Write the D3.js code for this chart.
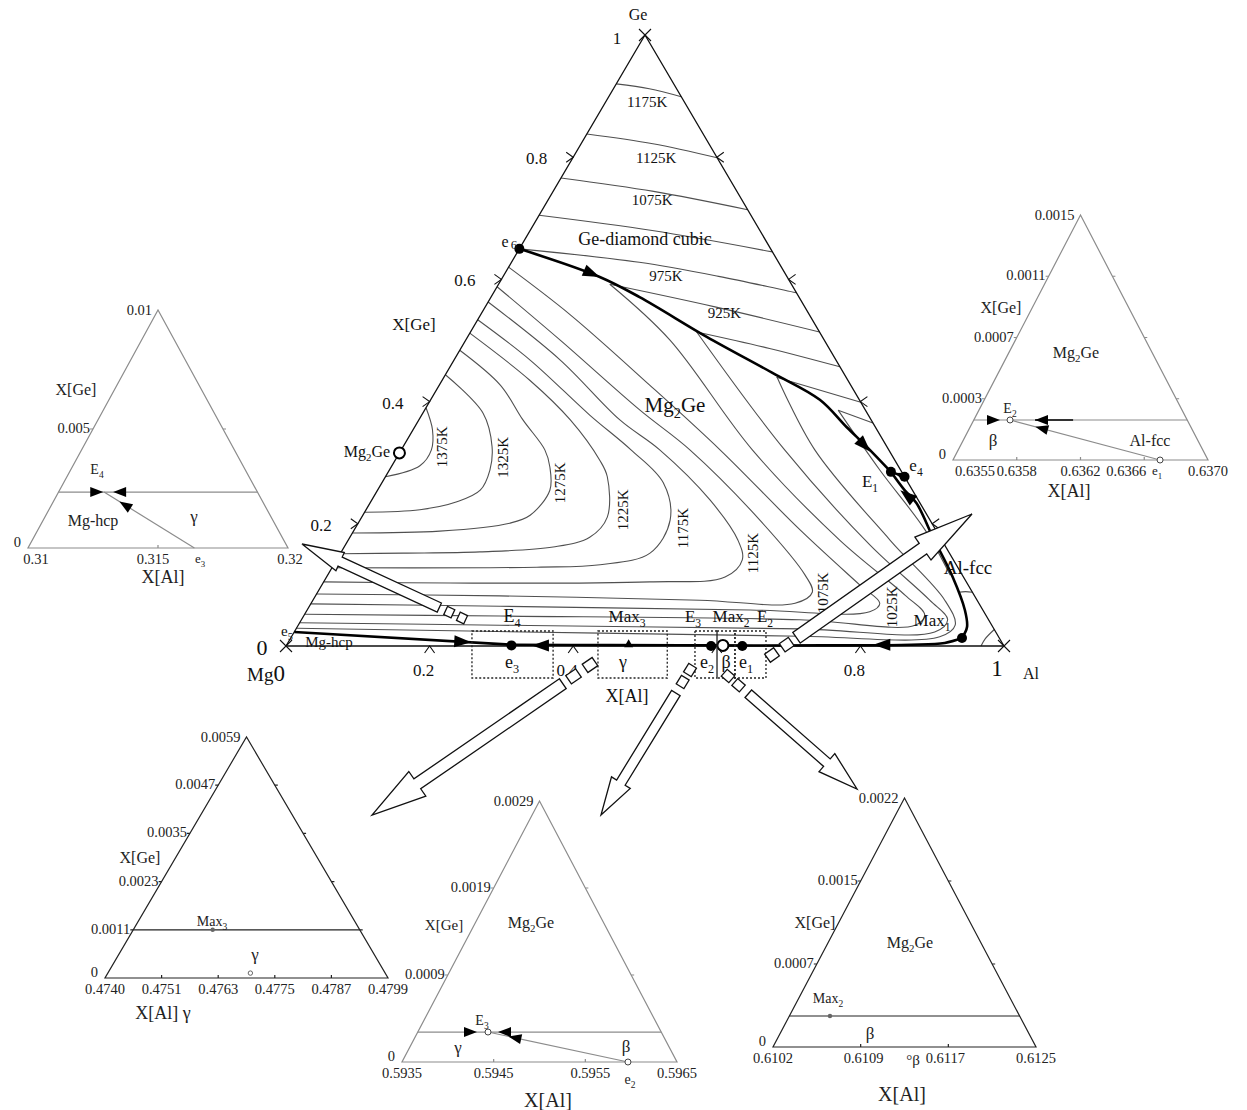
<!DOCTYPE html>
<html>
<head>
<meta charset="utf-8">
<script src="https://cdn.jsdelivr.net/npm/d3@7/dist/d3.min.js"></script>
<style>
  body { margin: 0; background: #fff; }
  text { font-family: "Liberation Serif", "Times New Roman", serif; }
</style>
</head>
<body>
<svg id="chart" width="1247" height="1110"></svg>
<script>
// every composition below is [X(Al), X(Ge)]

// ---- main diagram: axis ----
var axisTicks = [0.2, 0.4, 0.6, 0.8];
var axisTickLabels = ["0.2", "0.4", "0.6", "0.8"];

// ---- isotherms in the Ge-diamond field ----
var geFieldLines = [
  [[0, 0.920], [0.05, 0.912], [0.101, 0.899]],
  [[0, 0.838], [0.10, 0.822], [0.201, 0.799]],
  [[0, 0.766], [0.14, 0.744], [0.286, 0.714]],
  [[0, 0.705], [0.17, 0.680], [0.355, 0.645]],
  [[0, 0.650], [0.178, 0.628], [0.30, 0.605], [0.422, 0.578]],
  [[0.155, 0.592], [0.32, 0.555], [0.486, 0.514]],
  [[0.315, 0.514], [0.43, 0.487], [0.543, 0.457]],
  [[0.463, 0.440], [0.601, 0.399]],
  [[0.576, 0.386], [0.635, 0.365]]
];
var geFieldTemps = ["1175K", "1125K", "1075K", "975K", "925K"];
var geFieldLabelAt = [[0.058, 0.890], [0.116, 0.799], [0.145, 0.730], [0.226, 0.606], [0.338, 0.545]];

// ---- isotherms in the Mg2Ge field ----
var mg2geLines = [
  [[0, 0.390], [0.027, 0.354], [0.042, 0.321], [0.039, 0.295], [0, 0.277]],
  [[0, 0.444], [0.084, 0.381], [0.124, 0.326], [0.140, 0.288], [0.143, 0.255], [0.120, 0.236], [0.075, 0.223], [0, 0.219]],
  [[0, 0.484], [0.085, 0.427], [0.145, 0.370], [0.200, 0.321], [0.221, 0.293], [0.240, 0.255], [0.233, 0.214], [0.211, 0.201], [0.120, 0.188], [0, 0.185]],
  [[0, 0.512], [0.122, 0.435], [0.211, 0.370], [0.285, 0.304], [0.309, 0.277], [0.342, 0.211], [0.334, 0.178], [0.291, 0.162], [0.193, 0.154], [0.087, 0.152], [0, 0.151]],
  [[0, 0.534], [0.106, 0.468], [0.234, 0.378], [0.320, 0.321], [0.392, 0.267], [0.432, 0.206], [0.431, 0.152], [0.371, 0.133], [0.285, 0.129], [0, 0.128]],
  [[0, 0.563], [0.148, 0.468], [0.280, 0.370], [0.360, 0.321], [0.471, 0.239], [0.543, 0.173], [0.565, 0.141], [0.555, 0.113], [0.454, 0.105], [0.177, 0.103], [0, 0.105]],
  [[0, 0.588], [0.131, 0.501], [0.300, 0.386], [0.402, 0.321], [0.557, 0.206], [0.665, 0.116], [0.689, 0.088], [0.674, 0.070], [0.539, 0.075], [0.257, 0.082], [0, 0.085]],
  [[0, 0.620], [0.125, 0.542], [0.293, 0.427], [0.444, 0.321], [0.621, 0.190], [0.749, 0.100], [0.792, 0.070], [0.785, 0.056], [0.617, 0.059], [0.266, 0.065], [0, 0.069]],
  [[0.155, 0.592], [0.284, 0.501], [0.489, 0.321], [0.685, 0.173], [0.821, 0.083], [0.864, 0.051], [0.859, 0.034], [0.694, 0.043], [0.274, 0.049], [0, 0.052]],
  [[0.315, 0.514], [0.534, 0.321], [0.731, 0.165], [0.859, 0.075], [0.900, 0.043], [0.892, 0.023], [0.702, 0.028], [0.281, 0.034], [0, 0.038]],
  [[0.464, 0.440], [0.576, 0.321], [0.755, 0.173], [0.880, 0.075], [0.915, 0.034], [0.903, 0.015], [0.708, 0.016], [0.427, 0.021], [0, 0.029]],
  [[0.576, 0.386], [0.683, 0.288], [0.795, 0.190], [0.867, 0.116]]
];
var mg2geTemps = ["1375K", "1325K", "1275K", "1225K", "1175K", "1125K", "1075K", "1025K"];
var mg2geLabelAt = [[0.054, 0.326], [0.148, 0.309], [0.248, 0.267], [0.358, 0.223], [0.456, 0.193], [0.574, 0.152], [0.704, 0.087], [0.812, 0.064]];

// ---- isotherms in the Al-fcc field ----
var alFccLines = [
  [[0.819, 0.170], [0.830, 0.170]],
  [[0.892, 0.088], [0.902, 0.089], [0.912, 0.088]],
  [[0.968, 0], [0.968, 0.012], [0.973, 0.027]]
];

// ---- monovariant lines ----
var lineE6E1 = [[0, 0.650], [0.135, 0.604], [0.207, 0.571], [0.333, 0.506], [0.454, 0.447], [0.542, 0.403], [0.602, 0.358], [0.646, 0.326], [0.700, 0.285]];
var lineMax1E1 = [[0.935, 0.013], [0.933, 0.031], [0.916, 0.059], [0.872, 0.113], [0.812, 0.178], [0.761, 0.234], [0.734, 0.255], [0.700, 0.285]];
var lineE1e4 = [[0.700, 0.285], [0.723, 0.277]];
var lineMax1E4 = [[0.935, 0.013], [0.915, 0.005], [0.87, 0.002], [0.75, 0.001], [0.60, 0.001], [0.45, 0.0015], [0.3135, 0.002]];
var lineE5E4 = [[0, 0.023], [0.3135, 0.002]];

// ---- invariant points ----
var filledPoints = [[0, 0.650], [0.700, 0.285], [0.723, 0.277], [0.935, 0.013], [0.3135, 0.001], [0.592, 0], [0.6355, 0]];
var openPoints = [[0, 0.316], [0.608, 0.001]];
var max3Point = [0.4757, 0.003];

// direction arrows on the monovariant lines: tip, then a point behind it
var flowArrows = [
  [[0.135, 0.604], [0.07, 0.630]],
  [[0.655, 0.318], [0.602, 0.358]],
  [[0.728, 0.255], [0.761, 0.234]],
  [[0.817, 0.002], [0.90, 0.002]],
  [[0.342, 0.001], [0.45, 0.001]],
  [[0.255, 0.006], [0, 0.023]]
];
var smallFlowArrows = [[[0.707, 0.283], [0.723, 0.277]]];

// enlarged regions marked on the X(Al) axis
var zoomBoxes = [[0.259, 0.372], [0.4345, 0.531], [0.5696, 0.6003], [0.6003, 0.6253], [0.6253, 0.6685]];

// ---- inset near E4 ----
var insE4Al = ["0.31", "0.315", "0.32"];
var insE4Ge = ["0", "0.005", "0.01"];
var insE4Level = 0.00235;
var insE4Point = [0.31175, 0.00235];
var insE4From = [0.3164, 0];
var insE4Arrows = [[[0.31172, 0.00235], [0.3100, 0.00235]], [[0.3121, 0.00235], [0.3180, 0.00235]], [[0.31254, 0.00195], [0.3164, 0]]];

// ---- inset near E2 ----
var insE2Al = ["0.6355", "0.6358", "0.6362", "0.6366", "0.6370"];
var insE2Ge = ["0", "0.0003", "0.0007", "0.0011", "0.0015"];
var insE2Level = 0.000245;
var insE2Point = [0.635713, 0.000245];
var insE2From = [0.636718, 0];
var insE2Arrows = [[[0.635654, 0.000245], [0.6355, 0.000245]], [[0.63586, 0.000245], [0.6368, 0.000245]], [[0.635882, 0.000204], [0.636718, 0]]];

// ---- inset near Max3 ----
var insMax3Al = ["0.4740", "0.4751", "0.4763", "0.4775", "0.4787", "0.4799"];
var insMax3Ge = ["0", "0.0011", "0.0023", "0.0035", "0.0047", "0.0059"];
var insMax3Level = 0.00118;
var insMax3Point = [0.475655, 0.00118];
var insMax3Gamma = [0.476971, 0.00012];

// ---- inset near E3 ----
var insE3Al = ["0.5935", "0.5945", "0.5955", "0.5965"];
var insE3Ge = ["0", "0.0009", "0.0019", "0.0029"];
var insE3Level = 0.000333;
var insE3Point = [0.594266, 0.000333];
var insE3From = [0.595965, 0];
var insE3Arrows = [[[0.594146, 0.000333], [0.5935, 0.000333]], [[0.594375, 0.000333], [0.5955, 0.000333]], [[0.594514, 0.000284], [0.595965, 0]]];

// ---- inset near Max2 ----
var insMax2Al = ["0.6102", "0.6109", "0.6117", "0.6125"];
var insMax2Ge = ["0", "0.0007", "0.0015", "0.0022"];
var insMax2Level = 0.000274;
var insMax2Point = [0.610555, 0.000274];

// =====================================================================
var svg = d3.select("#chart");
svg.append("rect").attr("width", 1247).attr("height", 1110).attr("fill", "#fff");

function label(parent, s, x, y, o) {
  o = o || {};
  var size = o.size || 16;
  var t = parent.append("text").attr("x", x).attr("y", y)
    .attr("font-size", size)
    .attr("text-anchor", o.anchor || "middle")
    .attr("fill", o.fill || "#111");
  if (o.central) t.attr("dominant-baseline", "central");
  if (o.rotate) t.attr("transform", "rotate(" + o.rotate + "," + x + "," + y + ")");
  var parts = s.split(/(_\w)/);
  var down = false;
  parts.forEach(function (p) {
    if (!p) return;
    if (p[0] === "_") {
      t.append("tspan").attr("font-size", size * 0.68).attr("dy", size * 0.28).text(p.slice(1));
      down = true;
    } else {
      var ts = t.append("tspan").text(p);
      if (down) { ts.attr("dy", -size * 0.28); down = false; }
    }
  });
  return t;
}

function arrowHead(parent, a, b, len, wid, fill) {
  var dx = a[0] - b[0], dy = a[1] - b[1], L = Math.hypot(dx, dy);
  var ux = dx / L, uy = dy / L, nx = -uy, ny = ux;
  var bx = a[0] - ux * len, by = a[1] - uy * len;
  parent.append("path")
    .attr("d", "M" + a[0] + "," + a[1] + "L" + (bx + nx * wid / 2) + "," + (by + ny * wid / 2) +
      "L" + (bx - nx * wid / 2) + "," + (by - ny * wid / 2) + "Z")
    .attr("fill", fill || "#000");
}

// ---------------- main ternary ----------------
var xAl = d3.scaleLinear().domain([0, 1]).range([286, 1004]);
var yGe = d3.scaleLinear().domain([0, 1]).range([646, 35]);
function P(d) { return [xAl(d[0] + d[1] / 2), yGe(d[1])]; }
var smooth = d3.line().x(function (d) { return P(d)[0]; }).y(function (d) { return P(d)[1]; })
  .curve(d3.curveCatmullRom.alpha(0.5));

var main = svg.append("g");

main.selectAll(".iso-ge").data(geFieldLines).join("path").attr("class", "iso-ge")
  .attr("d", smooth).attr("fill", "none").attr("stroke", "#505050").attr("stroke-width", 1.1);
main.selectAll(".iso-mg").data(mg2geLines).join("path").attr("class", "iso-mg")
  .attr("d", smooth).attr("fill", "none").attr("stroke", "#505050").attr("stroke-width", 1.1);
main.selectAll(".iso-al").data(alFccLines).join("path").attr("class", "iso-al")
  .attr("d", smooth).attr("fill", "none").attr("stroke", "#505050").attr("stroke-width", 1.1);

// triangle
main.append("path")
  .attr("d", d3.line()([P([0, 0]), P([1, 0]), P([0, 1])]) + "Z")
  .attr("fill", "none").attr("stroke", "#111").attr("stroke-width", 1.3);

// ticks
var tickPath = "";
axisTicks.forEach(function (g) {
  var l = P([0, g]); tickPath += "M" + (l[0] - 7) + "," + (l[1] - 5) + "L" + l[0] + "," + l[1] + "L" + (l[0] - 7) + "," + (l[1] + 5);
  var r = P([1 - g, g]); tickPath += "M" + (r[0] + 7) + "," + (r[1] - 5) + "L" + r[0] + "," + r[1] + "L" + (r[0] + 7) + "," + (r[1] + 5);
  var b = P([g, 0]); tickPath += "M" + (b[0] - 5) + "," + (b[1] + 7) + "L" + b[0] + "," + b[1] + "L" + (b[0] + 5) + "," + (b[1] + 7);
});
[[0, 0], [1, 0], [0, 1]].forEach(function (c) {
  var p = P(c);
  tickPath += "M" + (p[0] - 6) + "," + (p[1] - 6) + "L" + (p[0] + 6) + "," + (p[1] + 6) +
    "M" + (p[0] - 6) + "," + (p[1] + 6) + "L" + (p[0] + 6) + "," + (p[1] - 6);
});
main.append("path").attr("d", tickPath).attr("fill", "none").attr("stroke", "#111").attr("stroke-width", 1.1);

// monovariant lines
[lineE6E1, lineMax1E1, lineE1e4, lineMax1E4, lineE5E4].forEach(function (ln) {
  main.append("path").attr("d", smooth(ln)).attr("fill", "none").attr("stroke", "#000").attr("stroke-width", 2.6);
});

flowArrows.forEach(function (f) { arrowHead(main, P(f[0]), P(f[1]), 17, 12); });
smallFlowArrows.forEach(function (f) { arrowHead(main, P(f[0]), P(f[1]), 9, 8); });
arrowHead(main, [P(max3Point)[0], P(max3Point)[1] - 5], [P(max3Point)[0], P(max3Point)[1] + 3], 8, 9);

main.selectAll(".pt").data(filledPoints).join("circle").attr("class", "pt")
  .attr("cx", function (d) { return P(d)[0]; }).attr("cy", function (d) { return P(d)[1]; })
  .attr("r", 5).attr("fill", "#000");
main.selectAll(".opt").data(openPoints).join("circle").attr("class", "opt")
  .attr("cx", function (d) { return P(d)[0]; }).attr("cy", function (d) { return P(d)[1]; })
  .attr("r", 5.5).attr("fill", "#fff").attr("stroke", "#000").attr("stroke-width", 2);

// dotted zoom boxes
main.selectAll(".zbox").data(zoomBoxes).join("rect").attr("class", "zbox")
  .attr("x", function (d) { return xAl(d[0]); })
  .attr("y", yGe(0) - 15)
  .attr("width", function (d) { return xAl(d[1]) - xAl(d[0]); })
  .attr("height", 47)
  .attr("fill", "none").attr("stroke", "#222").attr("stroke-width", 1.3).attr("stroke-dasharray", "2,2");

// isotherm labels
geFieldTemps.forEach(function (t, i) {
  var p = P(geFieldLabelAt[i]);
  label(main, t, p[0], p[1], { size: 15, central: true });
});
mg2geTemps.forEach(function (t, i) {
  var p = P(mg2geLabelAt[i]);
  label(main, t, p[0], p[1], { size: 15, central: true, rotate: -90 });
});

// axis text
axisTicks.forEach(function (g, i) {
  var l = P([0, g]);
  label(main, axisTickLabels[i], l[0] - 26, l[1] + 7, { size: 17, anchor: "end" });
  if (g !== 0.6) {
    var b = P([g, 0]);
    label(main, axisTickLabels[i], b[0] - 6, b[1] + 30, { size: 17 });
  }
});
label(main, "Ge", 638, 20, { size: 16 });
label(main, "1", 617, 44, { size: 17 });
label(main, "0", 262, 655, { size: 22 });
var mg0 = main.append("text").attr("x", 247).attr("y", 681).attr("fill", "#111");
mg0.append("tspan").attr("font-size", 19).text("Mg");
mg0.append("tspan").attr("font-size", 23).text("0");
label(main, "1", 997, 676, { size: 23 });
label(main, "Al", 1031, 679, { size: 16 });
label(main, "X[Ge]", 414, 330, { size: 17 });
label(main, "X[Al]", 627, 702, { size: 18 });

var mainLabels = [
  ["Ge-diamond cubic", 645, 245, 18], ["Mg_2Ge", 675, 412, 21], ["Mg_2Ge", 367, 457, 16],
  ["Al-fcc", 968, 574, 19], ["Max_1", 932, 626, 17], ["E_1", 870, 487, 17], ["e_4", 916, 471, 17],
  ["e_5", 287, 636, 15], ["Mg-hcp", 329, 647, 15],
  ["E_4", 512, 622, 18], ["Max_3", 627, 622, 17], ["E_3", 693, 622, 17], ["Max_2", 731, 622, 17], ["E_2", 765, 622, 17],
  ["e_3", 512, 668, 18], ["γ", 623, 668, 18], ["e_2", 707, 668, 18], ["β", 726, 668, 18], ["e_1", 746, 668, 18]
];
mainLabels.forEach(function (m) { label(main, m[0], m[1], m[2], { size: m[3] }); });
label(main, "e", 505, 247, { size: 16 });
label(main, "6", 514, 249, { size: 13 });

// hollow pointer arrows towards the insets
var hollowArrows = [
  { tail: [462, 618], tip: [302, 544], squares: [0, 14], sq: [8, 9], start: 25, hw: 5, HW: 10, head: 42 },
  { tail: [772, 655], tip: [972, 514], squares: [0, 18], sq: [11, 10], start: 30, hw: 6.5, HW: 14, head: 60 },
  { tail: [590, 665], tip: [372, 815], squares: [0, 20], sq: [12, 10], start: 33, hw: 6, HW: 15, head: 55 },
  { tail: [690, 670], tip: [601, 815], squares: [0, 14], sq: [10, 9], start: 27, hw: 5, HW: 11, head: 38 },
  { tail: [728, 676], tip: [857, 789], squares: [0, 14], sq: [10, 9], start: 27, hw: 5, HW: 12, head: 40 }
];
var ha = svg.append("g").attr("fill", "#fff").attr("stroke", "#111").attr("stroke-width", 1.3);
hollowArrows.forEach(function (h) {
  var dx = h.tip[0] - h.tail[0], dy = h.tip[1] - h.tail[1], L = Math.hypot(dx, dy);
  var ux = dx / L, uy = dy / L, nx = -uy, ny = ux;
  var ang = Math.atan2(uy, ux) * 180 / Math.PI;
  h.squares.forEach(function (d) {
    var cx = h.tail[0] + ux * d, cy = h.tail[1] + uy * d;
    ha.append("rect").attr("x", cx - h.sq[0] / 2).attr("y", cy - h.sq[1] / 2)
      .attr("width", h.sq[0]).attr("height", h.sq[1])
      .attr("transform", "rotate(" + ang + "," + cx + "," + cy + ")");
  });
  var s0 = [h.tail[0] + ux * h.start, h.tail[1] + uy * h.start];
  var s1 = [h.tail[0] + ux * (L - h.head), h.tail[1] + uy * (L - h.head)];
  var pts = [
    [s0[0] + nx * h.hw, s0[1] + ny * h.hw], [s1[0] + nx * h.hw, s1[1] + ny * h.hw],
    [s1[0] + nx * h.HW, s1[1] + ny * h.HW], h.tip,
    [s1[0] - nx * h.HW, s1[1] - ny * h.HW], [s1[0] - nx * h.hw, s1[1] - ny * h.hw],
    [s0[0] - nx * h.hw, s0[1] - ny * h.hw]
  ];
  ha.append("path").attr("d", d3.line()(pts) + "Z");
});

// ---------------- insets ----------------
var insets = [
  { aTicks: insE4Al, gTicks: insE4Ge, aDom: [0.31, 0.32], gMax: 0.01, bl: [28, 548], br: [288, 548], top: 310,
    stroke: "#8c8c8c", level: insE4Level, E: insE4Point, from: insE4From, arrows: insE4Arrows,
    shift: [8, -5, 2], openE: false,
    texts: [["X[Ge]", 76, 395, 16], ["E_4", 97, 474, 14], ["Mg-hcp", 93, 526, 16], ["γ", 194, 522, 17], ["e_3", 200, 563, 13], ["X[Al]", 163, 583, 18]] },
  { aTicks: insE2Al, gTicks: insE2Ge, aDom: [0.6355, 0.6370], gMax: 0.0015, bl: [953, 460], br: [1208, 460], top: 215,
    stroke: "#8c8c8c", level: insE2Level, E: insE2Point, from: insE2From, arrows: insE2Arrows,
    shift: [22, 0, 0, -18, 0], openE: true, dark: [0.63586, 0.636084],
    texts: [["X[Ge]", 1001, 313, 16], ["Mg_2Ge", 1076, 358, 16], ["E_2", 1010, 413, 14], ["β", 993, 446, 17], ["Al-fcc", 1150, 446, 16], ["e_1", 1157, 475, 13], ["X[Al]", 1069, 497, 18]] },
  { aTicks: insMax3Al, gTicks: insMax3Ge, aDom: [0.4740, 0.4799], gMax: 0.0059, bl: [105, 978], br: [388, 978], top: 737,
    stroke: "#222", level: insMax3Level, max: insMax3Point, extra: insMax3Gamma,
    shift: [0, 0, 0, 0, 0, 0],
    texts: [["X[Ge]", 140, 863, 16], ["Max_3", 212, 926, 14], ["γ", 255, 960, 17], ["X[Al] γ", 163, 1019, 18]] },
  { aTicks: insE3Al, gTicks: insE3Ge, aDom: [0.5935, 0.5965], gMax: 0.0029, bl: [402, 1062], br: [677, 1062], top: 801,
    stroke: "#8c8c8c", level: insE3Level, E: insE3Point, from: insE3From, arrows: insE3Arrows,
    shift: [0, 0, 5, 0], openE: true,
    texts: [["X[Ge]", 444, 930, 15], ["Mg_2Ge", 531, 928, 16], ["E_3", 482, 1025, 14], ["γ", 458, 1053, 17], ["β", 626, 1052, 17], ["e_2", 630, 1084, 14], ["X[Al]", 548, 1107, 20]] },
  { aTicks: insMax2Al, gTicks: insMax2Ge, aDom: [0.6102, 0.6125], gMax: 0.0022, bl: [773, 1047], br: [1036, 1047], top: 798,
    stroke: "#222", level: insMax2Level, max: insMax2Point,
    shift: [0, 3, -3, 0],
    texts: [["X[Ge]", 815, 928, 16], ["Mg_2Ge", 910, 948, 16], ["Max_2", 828, 1003, 14], ["β", 870, 1039, 17], ["°β", 913, 1065, 15], ["X[Al]", 902, 1101, 20]] }
];

insets.forEach(function (c) {
  var span = c.aDom[1] - c.aDom[0];
  var xs = d3.scaleLinear().domain(c.aDom).range([c.bl[0], c.br[0]]);
  var ys = d3.scaleLinear().domain([0, c.gMax]).range([c.bl[1], c.top]);
  var Q = function (d) { return [xs(d[0] + d[1] / c.gMax * span / 2), ys(d[1])]; };
  var g = svg.append("g");
  var right = function (gv) { return [c.aDom[0] + (1 - gv / c.gMax) * span, gv]; };

  g.append("path").attr("d", d3.line()([Q([c.aDom[0], 0]), Q([c.aDom[1], 0]), Q([c.aDom[0], c.gMax])]) + "Z")
    .attr("fill", "none").attr("stroke", c.stroke).attr("stroke-width", 1.2);

  var n = c.aTicks.length - 1, tp = "";
  for (var k = 1; k < n; k++) {
    var f = k / n;
    var b = Q([c.aDom[0] + f * span, 0]); tp += "M" + b[0] + "," + b[1] + "l0,-3";
    var l = Q([c.aDom[0], f * c.gMax]); tp += "M" + l[0] + "," + l[1] + "l-3,0";
    var r = Q(right(f * c.gMax)); tp += "M" + r[0] + "," + r[1] + "l3,0";
  }
  g.append("path").attr("d", tp).attr("stroke", c.stroke).attr("stroke-width", 1.2);

  c.aTicks.forEach(function (t, i) {
    var b = Q([c.aDom[0] + i / n * span, 0]);
    label(g, t, b[0] + c.shift[i], b[1] + 16, { size: 14.5, fill: "#222" });
  });
  c.gTicks.forEach(function (t, i) {
    var l = Q([c.aDom[0], i / n * c.gMax]);
    if (i === 0) label(g, t, l[0] - 7, l[1] - 1, { size: 14.5, anchor: "end", fill: "#222" });
    else if (i === n) label(g, t, l[0] - 6, l[1] + 5, { size: 14.5, anchor: "end", fill: "#222" });
    else label(g, t, l[0] - 3, l[1] + 4, { size: 14.5, anchor: "end", fill: "#222" });
  });

  // level line across the inset
  g.append("path").attr("d", d3.line()([Q([c.aDom[0], c.level]), Q(right(c.level))]))
    .attr("stroke", c.stroke).attr("stroke-width", 1.2);
  if (c.dark) {
    g.append("path").attr("d", d3.line()([Q([c.dark[0], c.level]), Q([c.dark[1], c.level])]))
      .attr("stroke", "#000").attr("stroke-width", 1.3);
  }
  if (c.from) {
    g.append("path").attr("d", d3.line()([Q(c.from), Q(c.E)])).attr("stroke", c.stroke).attr("stroke-width", 1.2);
  }
  if (c.arrows) c.arrows.forEach(function (a) { arrowHead(g, Q(a[0]), Q(a[1]), 13, 10); });
  if (c.openE) {
    [c.E, c.from].forEach(function (p) {
      g.append("circle").attr("cx", Q(p)[0]).attr("cy", Q(p)[1]).attr("r", 3)
        .attr("fill", "#fff").attr("stroke", "#444").attr("stroke-width", 1);
    });
  }
  if (c.max) {
    g.append("circle").attr("cx", Q(c.max)[0]).attr("cy", Q(c.max)[1]).attr("r", 2.2).attr("fill", "#666");
  }
  if (c.extra) {
    g.append("circle").attr("cx", Q(c.extra)[0]).attr("cy", Q(c.extra)[1]).attr("r", 2.2)
      .attr("fill", "none").attr("stroke", "#555").attr("stroke-width", 0.9);
  }
  c.texts.forEach(function (t) { label(g, t[0], t[1], t[2], { size: t[3], fill: "#222" }); });
});
</script>
</body>
</html>
